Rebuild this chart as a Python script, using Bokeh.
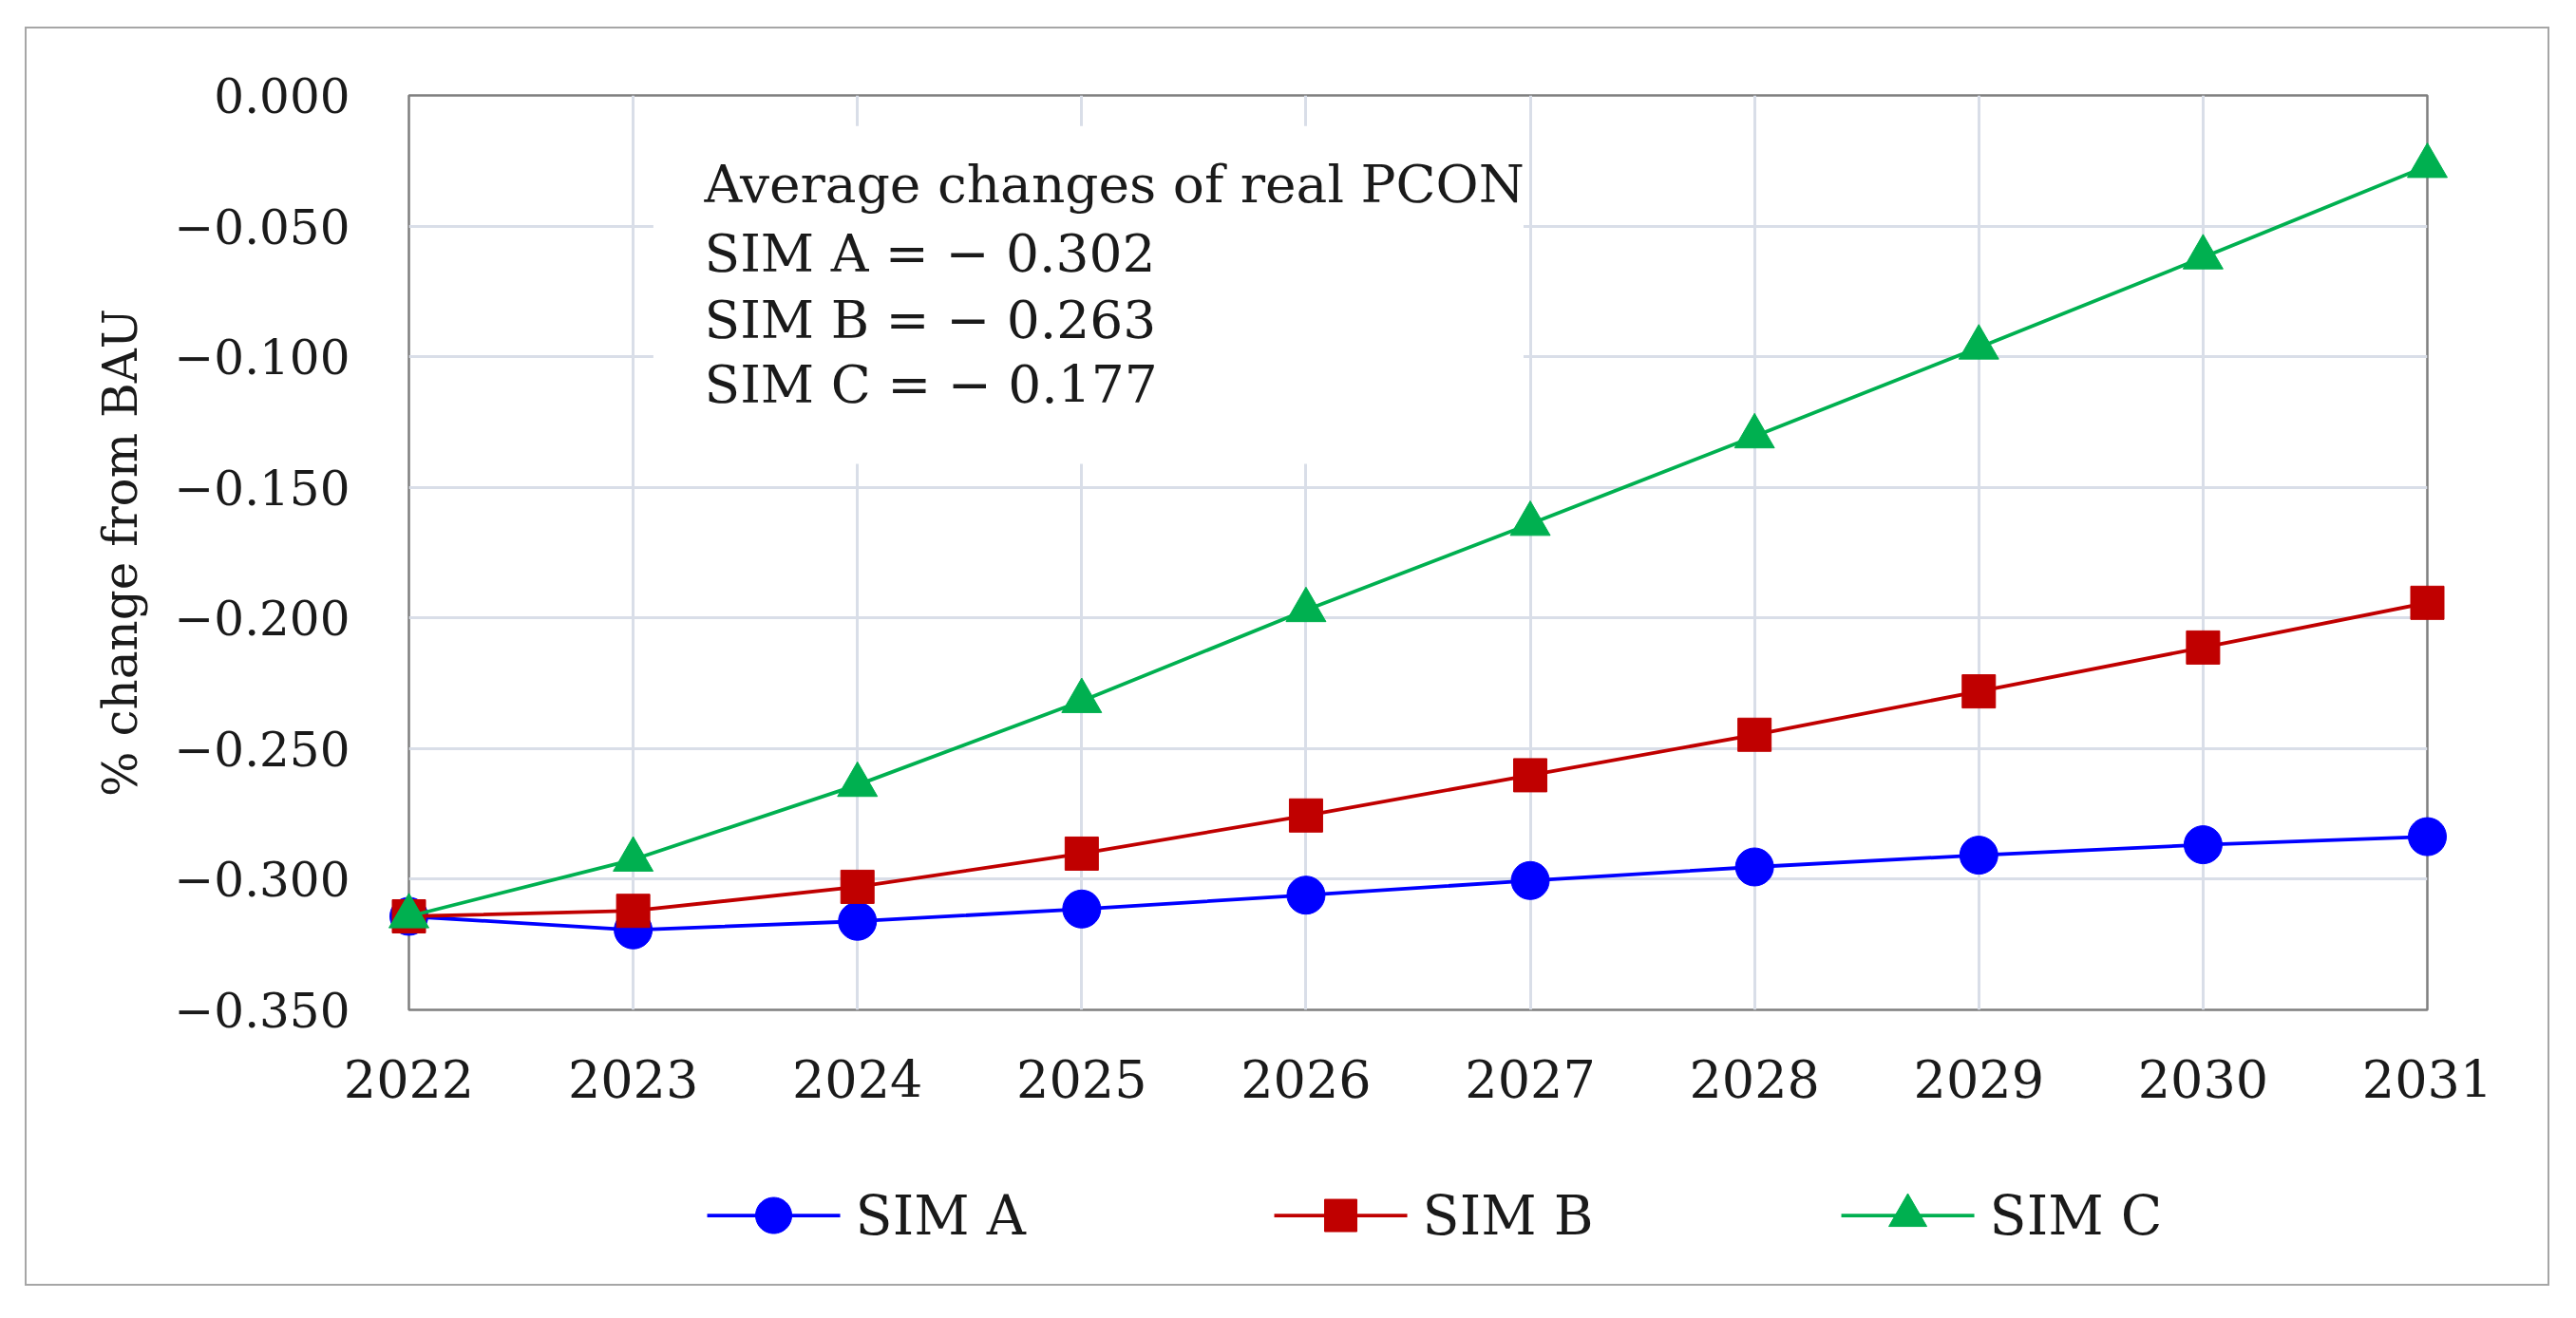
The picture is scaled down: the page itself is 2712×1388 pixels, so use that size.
import numpy as np
from bokeh.plotting import figure
from bokeh.models import (Range1d, FixedTicker, CustomJSTickFormatter, BoxAnnotation, Label)
from bokeh.core.properties import value
from bokeh.embed import file_html
from bokeh.resources import INLINE

# ---------------- data ----------------
years = [2022, 2023, 2024, 2025, 2026, 2027, 2028, 2029, 2030, 2031]
sim_a = [-0.3142, -0.3194, -0.3161, -0.3114, -0.3061, -0.3005, -0.2953, -0.2908, -0.2868, -0.2837]
sim_b = [-0.3142, -0.3121, -0.3029, -0.2902, -0.2756, -0.2602, -0.2447, -0.2281, -0.2113, -0.1942]
sim_c = [-0.3142, -0.2925, -0.2639, -0.2318, -0.1970, -0.1640, -0.1305, -0.0965, -0.0620, -0.0270]
series_names = ["SIM A", "SIM B", "SIM C"]
average_changes = [-0.302, -0.263, -0.177]
y_ticks = [0.0, -0.05, -0.10, -0.15, -0.20, -0.25, -0.30, -0.35]
annotation_title = "Average changes of real PCON"
y_title = "% change from BAU"

# ---------------- style ----------------
FONT = "DejaVu Serif"
TEXT = "#1a1a1a"
colors = ["#0000ff", "#c00000", "#00b050"]
markers = ["circle", "square", "triangle"]
msizes = [40, 35, 42]
leg_msizes = [38, 34, 40]
GRID = "#d9dee8"

W, H = 2658, 1326
MB_L, MB_R, MB_T, MB_B = 402, 131, 70, 293

p = figure(width=W, height=H,
           x_range=Range1d(years[0], years[-1]), y_range=Range1d(y_ticks[-1], y_ticks[0]),
           output_backend="svg", toolbar_location=None,
           min_border_left=MB_L, min_border_right=MB_R, min_border_top=MB_T,
           min_border_bottom=MB_B,
           background_fill_color="white", border_fill_color="white")
p.margin = (28, 0, 0, 26)
p.styles = {"border": "2px solid #a6a6a6"}

p.outline_line_color = "#7f7f7f"
p.outline_line_width = 2.5

p.xaxis.ticker = FixedTicker(ticks=years)
p.yaxis.ticker = FixedTicker(ticks=y_ticks)
p.xaxis.formatter = CustomJSTickFormatter(code="return tick.toFixed(0);")
p.yaxis.formatter = CustomJSTickFormatter(
    code="return Math.abs(tick) < 1e-9 ? '0.000' : '\u2212' + Math.abs(tick).toFixed(3);")

for ax in (p.xaxis[0], p.yaxis[0]):
    ax.axis_line_color = None
    ax.major_tick_line_color = None
    ax.minor_tick_line_color = None
    ax.major_tick_out = 0
    ax.major_tick_in = 0
    ax.minor_tick_out = 0
    ax.minor_tick_in = 0
    ax.major_label_text_font = FONT
    ax.major_label_text_color = TEXT
p.xaxis.major_label_text_font_size = "54px"
p.yaxis.major_label_text_font_size = "50px"
p.xaxis.major_label_standoff = 52
p.yaxis.major_label_standoff = 62
p.yaxis.axis_label = y_title
p.yaxis.axis_label_text_font = FONT
p.yaxis.axis_label_text_font_size = "50px"
p.yaxis.axis_label_text_font_style = "normal"
p.yaxis.axis_label_text_color = TEXT
p.yaxis.axis_label_standoff = 24

for g in (p.xgrid[0], p.ygrid[0]):
    g.grid_line_color = GRID
    g.grid_line_width = 3

# white box behind the annotation text
p.add_layout(BoxAnnotation(left=2023.09, right=2026.97, top=-0.0117, bottom=-0.141,
                           fill_color="white", fill_alpha=1.0, line_color=None,
                           level="underlay"))

# annotation text
text_x = 2023.317
text_ys = [-0.0341, -0.0604, -0.0859, -0.1107]
pads = [" ", "  ", "  "]
lines = [annotation_title] + [f"{n}{pad}= \u2212 {abs(v):.3f}"
                              for n, pad, v in zip(series_names, pads, average_changes)]
for t, ty in zip(lines, text_ys):
    p.add_layout(Label(x=text_x, y=ty, text=t, text_font=FONT, text_font_size="55px",
                       text_color=TEXT, text_baseline="alphabetic", text_align="left"))

# series
for name, vals, c, m, s in zip(series_names, [sim_a, sim_b, sim_c], colors, markers, msizes):
    p.line(years, vals, line_color=c, line_width=3.8, level="overlay")
    p.scatter(years, vals, marker=m, size=s, fill_color=c, line_color=c, level="overlay")

# legend row below the axis (keys drawn unclipped, outside the plot frame)
frame_w = W - MB_L - MB_R
frame_h = H - MB_T - MB_B
px_x = frame_w / (years[-1] - years[0])        # screen px per year
px_y = frame_h / (y_ticks[0] - y_ticks[-1])    # screen px per unit of y
theta = np.linspace(0, 2 * np.pi, 61)


def key_shape(marker, cx, cy, size):
    r = size / 2.0
    if marker == "circle":
        return cx + r * np.cos(theta) / px_x, cy + r * np.sin(theta) / px_y
    if marker == "square":
        return (cx + np.array([-r, r, r, -r]) / px_x,
                cy + np.array([-r, -r, r, r]) / px_y)
    h = r * np.sqrt(3)
    return (cx + np.array([-r, r, 0.0]) / px_x,
            cy + np.array([-h / 3, -h / 3, 2 * h / 3]) / px_y)


legend_y = -0.4287
legend_x0 = 2023.33
legend_step = 2.5285
key_len = 0.593
label_dx = 0.661
for i, (name, c, m, s) in enumerate(zip(series_names, colors, markers, leg_msizes)):
    x0 = legend_x0 + i * legend_step
    p.line([x0, x0 + key_len], [legend_y, legend_y], line_color=c, line_width=3.8,
           level="overlay")
    kx, ky = key_shape(m, x0 + key_len / 2, legend_y, s)
    p.patch(list(kx), list(ky), fill_color=c, line_color=c, line_width=1, level="overlay")
    p.text([x0 + label_dx], [legend_y], text=[name], text_font=value(FONT),
           text_font_size="57px", text_color=TEXT, text_baseline="middle",
           text_align="left", level="overlay")

open("out.html", "w").write(file_html(p, INLINE))
